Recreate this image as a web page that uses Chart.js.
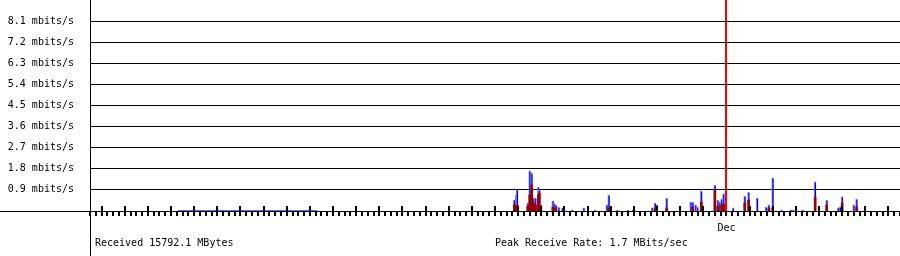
<!DOCTYPE html>
<html>
<head>
<meta charset="utf-8">
<script src="https://cdn.jsdelivr.net/npm/chart.js@4"></script>
<style>
html, body { margin: 0; padding: 0; background: #fff; }
#wrap { position: relative; width: 900px; height: 256px; }
</style>
</head>
<body>
<div id="wrap"><canvas id="c"></canvas></div>
<script>
// sample times in hours, relative to Dec 1 00:00
const sampleHour = [-220, -218, -217, -206, -204, -202, -200, -198, -195, -194, -192,
  -180, -179, -177, -174, -170, -160, -148, -136, -124, -122, -113, -102, -97,
  -77, -74, -72, -62, -48, -37, -35, -32, -30, -26, -12, -9, -7, -5, -3, -1,
  7, 19, 23, 32, 41, 44, 48, 57, 67, 69, 79, 92, 104, 116, 118, 120, 132, 135]
// receive rate, mbits/s
const rxRate = [0.47, 0.68, 0.90, 0.34, 1.71, 1.62, 0.55, 0.55, 1.02, 0.90, 0.26,
  0.43, 0.34, 0.26, 0.17, 0.13, 0.04, 0.13, 0.04, 0.26, 0.68, 0.04, 0.04, 0.04,
  0.13, 0.34, 0.26, 0.55, 0.04, 0.38, 0.38, 0.26, 0.17, 0.85, 1.11, 0.47, 0.38, 0.51, 0.73, 0.77,
  0.13, 0.64, 0.81, 0.55, 0.17, 0.26, 1.41, 0.04, 0.04, 0.04, 0.04, 1.24, 0.47, 0.13, 0.17, 0.60, 0.26, 0.51]
// send rate, mbits/s
const txRate = [0.26, 0.21, 0.26, 0.21, 0.68, 1.11, 0.34, 0.26, 0.68, 0.77, 0,
  0.17, 0, 0.13, 0, 0, 0, 0, 0, 0, 0.13, 0, 0, 0,
  0, 0.13, 0, 0.13, 0, 0, 0.17, 0, 0, 0.38, 0.90, 0.21, 0, 0.26, 0.30, 0.21,
  0, 0.34, 0.47, 0, 0, 0.13, 0.13, 0, 0, 0, 0, 0.60, 0.26, 0, 0, 0.34, 0, 0.17]
// low steady traffic early in the period
const idleHour = [-569, -424]
const idleRate = [0.02, 0.02]

const yTicks = [0.9, 1.8, 2.7, 3.6, 4.5, 5.4, 6.3, 7.2, 8.1]
const monthStart = [0]
const monthName = ['Dec']
const X_MIN = -660
const X_MAX = 180
const Y_MAX = 9
const TICK_STEP = 6
const totalText = 'Received 15792.1 MBytes'
const peakText = 'Peak Receive Rate: 1.7 MBits/sec'

const FONT = '"DejaVu Sans Mono", monospace'
Chart.defaults.font.family = FONT
Chart.defaults.font.size = 10
Chart.defaults.color = '#000'

const pts = (xs, ys) => xs.map((h, i) => ({ x: h, y: ys[i] || null }))

const frame = {
  id: 'frame',
  afterDatasetsDraw(chart) {
    const { ctx, scales: { x, y }, chartArea } = chart
    const base = Math.round(y.getPixelForValue(0))
    ctx.save()
    ctx.fillStyle = '#000'
    ctx.fillRect(0, base, chart.width, 1)
    ctx.fillRect(Math.round(chartArea.left), 0, 1, chart.height)
    for (let h = X_MIN; h <= X_MAX; h += TICK_STEP) {
      const px = Math.round(x.getPixelForValue(h))
      const tall = h % 24 === 0
      ctx.fillRect(px - 1, tall ? base - 5 : base, 2, tall ? 10 : 5)
    }
    ctx.fillStyle = '#ff0000'
    monthStart.forEach(h => {
      const px = Math.round(x.getPixelForValue(h))
      ctx.fillRect(px - 1, 0, 2, base)
    })
    ctx.fillStyle = '#000'
    ctx.font = '10px ' + FONT
    ctx.textBaseline = 'middle'
    ctx.fillText(totalText, 95, 243)
    ctx.fillText(peakText, 495, 243)
    ctx.restore()
  },
}

new Chart(document.getElementById('c'), {
  type: 'bar',
  data: {
    datasets: [
      {
        data: pts(sampleHour, txRate),
        backgroundColor: '#990000',
        barThickness: 2,
        grouped: false,
        order: 0,
      },
      {
        data: pts(sampleHour, rxRate),
        backgroundColor: '#0000ff',
        borderColor: '#8080ff',
        borderWidth: { top: 1, left: 1, right: 0, bottom: 0 },
        borderSkipped: 'start',
        barThickness: 2,
        grouped: false,
        order: 1,
      },
      {
        type: 'line',
        data: pts(idleHour, idleRate),
        borderColor: '#6060ff',
        borderWidth: 1,
        pointRadius: 0,
        order: 2,
      },
    ],
  },
  options: {
    responsive: true,
    maintainAspectRatio: false,
    animation: false,
    layout: { padding: 0 },
    plugins: { legend: { display: false }, tooltip: { enabled: false } },
    scales: {
      x: {
        type: 'linear',
        min: X_MIN,
        max: X_MAX,
        offset: false,
        grid: { display: false, drawTicks: false },
        border: { display: false },
        afterBuildTicks: s => { s.ticks = monthStart.map(v => ({ value: v })) },
        ticks: {
          autoSkip: false,
          maxRotation: 0,
          padding: 11,
          callback: v => monthName[monthStart.indexOf(v)] ?? '',
        },
        afterFit: s => { s.height = 45; s.paddingLeft = 0; s.paddingRight = 0 },
      },
      y: {
        min: 0,
        max: Y_MAX,
        grid: { color: '#000', lineWidth: 1, drawTicks: false },
        border: { display: false },
        afterBuildTicks: s => { s.ticks = yTicks.map(v => ({ value: v })) },
        ticks: {
          padding: 16,
          callback: v => v.toFixed(1) + ' mbits/s',
        },
        afterFit: s => { s.width = 90; s.paddingTop = 0; s.paddingBottom = 0 },
      },
    },
  },
  plugins: [frame],
})
</script>
</body>
</html>
